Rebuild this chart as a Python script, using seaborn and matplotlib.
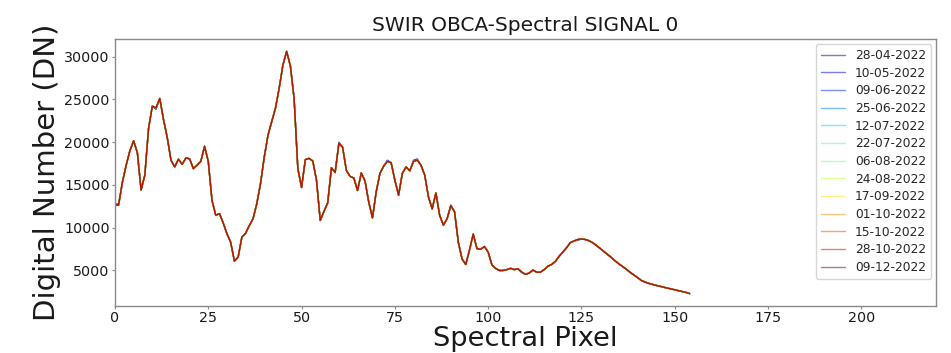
import numpy as np
import pandas as pd
import matplotlib
matplotlib.use("Agg")
import matplotlib.pyplot as plt
import seaborn as sns

dates = ["28-04-2022", "10-05-2022", "09-06-2022", "25-06-2022", "12-07-2022",
         "22-07-2022", "06-08-2022", "24-08-2022", "17-09-2022", "01-10-2022",
         "15-10-2022", "28-10-2022", "09-12-2022"]

signal = [
    12700, 12750, 15350, 17300, 19000, 20150, 18750, 14400, 16150, 21600,
    24200, 24000, 25100, 22650, 20550, 17900, 17100, 18000, 17400, 18150,
    18050, 16900, 17300, 17750, 19500, 17750, 13200, 11450, 11650, 10550,
    9300, 8300, 6100, 6550, 8900, 9350, 10250, 11050, 12800, 15150,
    18250, 20800, 22400, 23950, 26300, 29000, 30600, 28900, 25100, 16900,
    14700, 17950, 18100, 17800, 15550, 10850, 11900, 12900, 17000, 16450,
    19850, 19400, 16700, 16000, 15800, 14350, 16400, 15450, 13000, 11150,
    14200, 16350, 17200, 17750, 17600, 15550, 13800, 16350, 17100, 16650,
    17750, 17900, 17300, 16150, 13600, 12200, 14050, 11450, 10300, 11050,
    12600, 11850, 8300, 6350, 5700, 7400, 9250, 7550, 7480, 7800,
    7150, 5650, 5250, 5000, 5000, 5100, 5250, 5100, 5200, 4800,
    4550, 4700, 5050, 4800, 4800, 5100, 5500, 5700, 6050, 6650,
    7150, 7650, 8250, 8450, 8620, 8680, 8620, 8480, 8250, 7930,
    7580, 7230, 6880, 6520, 6130, 5780, 5470, 5160, 4800, 4490,
    4180, 3850, 3650, 3500, 3380, 3260, 3160, 3050, 2940, 2850,
    2740, 2640, 2540, 2440, 2300,
]

# small read-off differences of the two earliest acquisitions (index: DN offset)
early_offsets = {0: -120, 1: -120, 11: -150, 60: 120, 73: 120, 80: 120, 81: 120, 124: -80}

rows = []
for k, d in enumerate(dates):
    for i, v in enumerate(signal):
        if k < 2 and i in early_offsets:
            v = v + early_offsets[i]
        rows.append((i, v, d))
df = pd.DataFrame(rows, columns=["pixel", "dn", "date"])

sns.set_style("ticks")
plt.rcParams["font.family"] = ["DejaVu Sans"]
plt.rcParams["axes.edgecolor"] = "#8a8a8a"
plt.rcParams["xtick.color"] = "#8a8a8a"
plt.rcParams["ytick.color"] = "#8a8a8a"
plt.rcParams["xtick.labelcolor"] = "#1a1a1a"
plt.rcParams["ytick.labelcolor"] = "#1a1a1a"

fig = plt.figure(figsize=(9.51, 3.53), dpi=100)
ax = fig.add_axes([0.1209, 0.1340, 0.8633, 0.7547])

palette = [plt.cm.jet(t) for t in np.linspace(0, 1, len(dates))]
sns.lineplot(data=df, x="pixel", y="dn", hue="date", hue_order=dates,
             palette=palette, alpha=0.55, linewidth=1.0, ax=ax)

ax.set_xlim(0, 220)
ax.set_xticks([0, 25, 50, 75, 100, 125, 150, 175, 200])
ax.set_yticks([5000, 10000, 15000, 20000, 25000, 30000])
ax.tick_params(axis="both", labelsize=10.3, length=2.0, width=0.8, pad=1.8)
for s in ax.spines.values():
    s.set_linewidth(1.0)

ax.set_title("SWIR OBCA-Spectral SIGNAL 0", fontsize=14.5, color="#1a1a1a")
ax.set_xlabel("Spectral Pixel", fontsize=19.6, color="#1a1a1a", va="baseline")
ax.xaxis.set_label_coords(0.5, -0.1513)
ax.set_ylabel("Digital Number (DN)", fontsize=21, color="#1a1a1a")
ax.yaxis.set_label_coords(-0.066, 0.5)

sns.move_legend(ax, "upper right", title=None, fontsize=8.8, frameon=True,
                labelspacing=0.38, handlelength=2.0, borderaxespad=0.4)
leg = ax.get_legend()
for h in leg.get_lines():
    h.set_alpha(0.52)
    h.set_linewidth(1.0)

fig.savefig("out.png", dpi=100)
